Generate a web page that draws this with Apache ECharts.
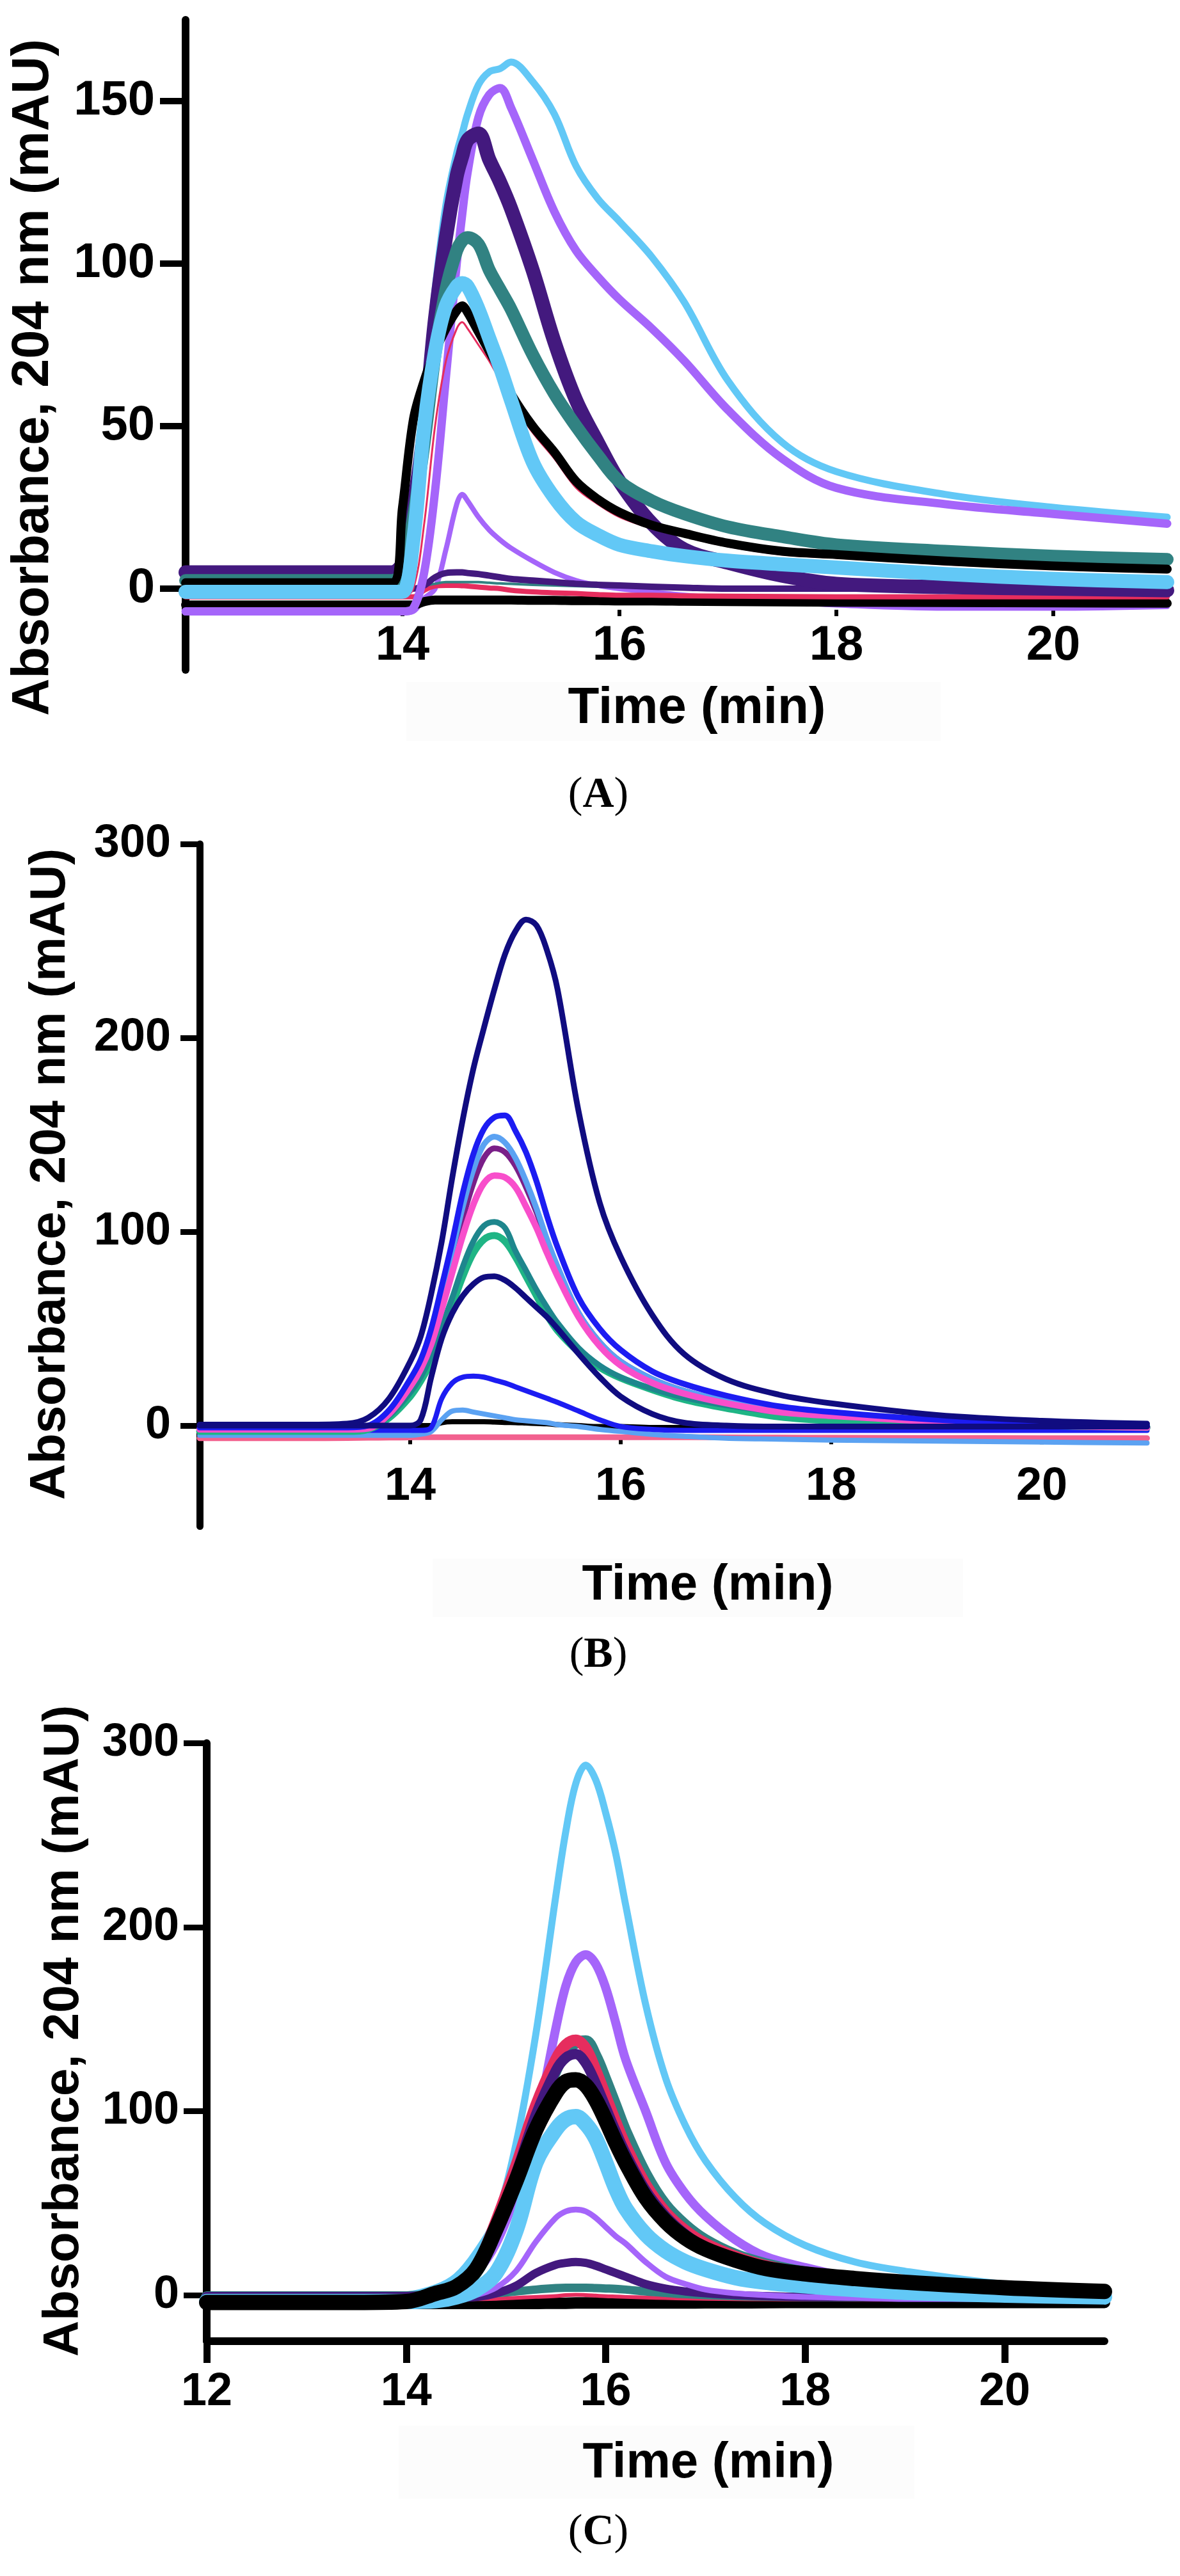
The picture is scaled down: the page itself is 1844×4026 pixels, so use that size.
<!DOCTYPE html>
<html>
<head>
<meta charset="utf-8">
<title>Absorbance at 204 nm vs time, panels A-C</title>
<script src="https://cdn.jsdelivr.net/npm/echarts@6.0.0/dist/echarts.min.js"></script>
<style>
  html, body { margin: 0; padding: 0; background: #ffffff; }
  #chart { width: 1844px; height: 4026px; }
</style>
</head>
<body>
<div id="chart"></div>
<script>
// ---- panel A (time in min, absorbance in mAU) ----
const timeA = [12, 13, 13.9, 14.0, 14.1, 14.2, 14.3, 14.4, 14.5, 14.55, 14.6, 14.7, 14.8, 14.9, 15.0, 15.2, 15.4, 15.6, 15.8, 16.0, 16.3, 16.6, 17.0, 17.5, 18, 19, 20, 21.05];
const lightBlueThinA  = [-1, -1, -1, 2, 25, 58, 92, 118, 134, 140, 146, 155, 159, 160, 162, 156, 146, 130, 120, 113, 102, 88, 64, 45, 36, 29, 25, 22];
const purpleThickA    = [-7, -7, -7, -7, -6, 5, 30, 65, 100, 115, 128, 145, 152, 154, 148, 132, 116, 104, 96, 89, 80, 70, 55, 40, 31, 26, 23, 20];
const darkPurpleThickA = [5, 5, 5, 8, 25, 49, 83, 108, 127, 133, 138, 140, 132, 125, 117, 98, 76, 58, 45, 33, 20, 12, 8, 4, 1.5, 0.5, 0, -0.5];
const tealThickA      = [2.5, 2.5, 2.5, 5, 22, 45, 72, 92, 104, 107, 108, 106, 98, 92, 86, 72, 60, 50, 41, 33, 27, 23, 19, 16, 13.5, 11.5, 10, 9];
const redThinA        = [-2.4, -2.4, -2.4, -2.4, 0, 20, 50, 70, 80, 82, 80, 75, 70, 64, 58, 48, 40, 31, 26, 22, 18.5, 16, 13, 10.5, 9.5, 7.5, 6, 5];
const blackThickA     = [1.8, 1.8, 1.8, 25, 52, 64, 73, 80, 85.5, 87, 85, 79, 73, 67, 60, 50, 42, 33, 27.5, 23.5, 19.5, 17, 14, 11.5, 10.5, 8.5, 7, 6];
const lightBlueThickA = [-1, -1, -1, -1, 15, 50, 73, 87, 93, 94, 93, 86, 77, 68, 58, 39, 28, 20.5, 16.5, 13.5, 11.5, 10, 8.6, 7.5, 6.5, 4.5, 3, 2];
const purpleThinA     = [-7.5, -7.5, -7.5, -7.5, -7, -3, 0, 12, 26, 29, 27, 22, 18, 15, 12.5, 8.5, 5, 2.5, 1, 0, -1, -2, -3, -4, -5, -6, -6, -5.5];
const darkPurpleSmallA = [0, 0, 0, 0, 0, 1, 3.5, 4.8, 5, 5, 4.8, 4.5, 4, 3.5, 3, 2.5, 2, 1.5, 1.2, 1, 0.6, 0.3, 0, 0, 0, 0, 0, 0];
const tealSmallA      = [0.5, 0.5, 0.5, 0.5, 0.5, 1, 1.5, 2, 2, 2, 2, 2, 1.8, 1.6, 1.5, 1.2, 1, 0.8, 0.6, 0.5, 0.3, 0.2, 0, 0, 0, 0, 0, 0];
const redBaseA        = [-2.5, -2.5, -2.5, -2.5, -2.5, -0.5, 0.8, 1, 1, 0.9, 0.8, 0.5, 0.2, 0, -0.5, -1, -1.3, -1.5, -1.8, -2, -2, -2.2, -2.3, -2.4, -2.5, -2.5, -2.5, -2.5];
const blackBaseA      = [-5, -5, -5, -5, -5, -4, -3.5, -3.5, -3.5, -3.5, -3.5, -3.5, -3.5, -3.5, -3.5, -3.6, -3.6, -3.7, -3.7, -3.8, -3.8, -3.9, -4, -4.1, -4.2, -4.3, -4.4, -4.5];

// ---- panel B ----
const timeB = [12, 13, 13.4, 13.6, 13.8, 14.0, 14.1, 14.2, 14.3, 14.4, 14.5, 14.6, 14.7, 14.8, 14.9, 15.0, 15.1, 15.2, 15.3, 15.4, 15.6, 15.8, 16.0, 16.3, 16.6, 17.0, 17.5, 18, 19, 20, 21];
const navyBigB   = [0.5, 0.5, 1, 4, 14, 33, 46, 68, 95, 128, 158, 184, 205, 225, 243, 255, 261, 258, 245, 225, 162, 115, 87, 57, 37, 24, 16, 11.5, 5.5, 2.5, 1];
const blueB      = [-1, -1, -1, 0, 8, 24, 34, 50, 72, 95, 120, 140, 153, 159, 160, 152, 141, 126, 108, 92, 66, 50, 39, 28, 21.5, 15.5, 10, 7, 3, 1, 0];
const lightBlueB = [-2, -2, -2, -1, 7, 22, 32, 47, 68, 90, 113, 132, 145, 149, 146, 138, 126, 112, 96, 82, 58, 43, 33, 24, 18, 13, 8.5, 6, 2.5, 0.5, -0.5];
const purpleB    = [-2, -2, -2, -1, 6, 21, 30, 45, 65, 86, 107, 125, 138, 143, 141, 134, 123, 110, 95, 81, 58, 43, 33, 24, 18, 12.5, 8, 5.5, 2, 0, -1];
const pinkB      = [-2, -2, -2, -1.5, 6, 20, 29, 42, 60, 79, 98, 114, 125, 129, 128, 123, 113, 102, 89, 77, 56, 41, 31, 22, 16.5, 11.5, 7, 5, 2, 0, -1];
const tealB      = [-2, -2, -2, -1.5, 5, 17, 25, 36, 51, 66, 82, 95, 103, 105, 102, 90, 80, 70, 61, 53, 40, 31, 25, 19, 14.5, 10.5, 7, 5, 2, 0.5, -0.5];
const greenB     = [-3, -3, -3, -2, 4, 15, 23, 33, 47, 62, 77, 89, 96, 98, 95, 87, 77, 67, 57, 49, 38, 30, 24.5, 18.5, 13.5, 9, 4.5, 2.5, 1, 0, -1];
const navySmallB = [0, 0, 0, 0, 0, 0, 3, 25, 45, 58, 67, 73, 76.5, 77, 75, 71, 66, 61, 56, 50, 37, 25, 15, 6, 1.5, 0, -0.5, -0.5, -0.5, -0.5, -0.5];
const blueSmallB = [-2.5, -2.5, -2.5, -2.5, -2.5, -2.5, -2.5, -1, 14, 22, 25, 25.5, 25, 23.5, 22, 20, 18, 16, 14, 12, 7.5, 3, -0.5, -2, -2.5, -2.5, -2.5, -2.5, -2.5, -2.5, -2.5];
const lightBlueSmallB = [-5, -5, -5, -5, -5, -5, -4.5, -3, 3, 7.5, 8, 7, 6, 5, 4, 3, 2.5, 2, 1.5, 0.5, -0.5, -2, -3, -4.5, -5.5, -6.5, -7, -7.5, -8, -8.5, -9];
const blackBaseB = [0, 0, 0, 0, 0, 0, 0, 0, 1.5, 2, 2, 2, 2, 1.8, 1.6, 1.5, 1.3, 1.1, 0.9, 0.5, 0, -0.5, -0.5, -1, -1, -1, -1, -1, -1, -1, -1];
const pinkBaseB  = [-6.5, -6.5, -6.4, -6.3, -6.2, -6.1, -6, -6, -6, -6, -6, -6, -6, -6, -6, -6, -6, -6, -6, -6, -6, -6, -6, -6, -6, -6.1, -6.2, -6.3, -6.4, -6.5, -6.5];

// ---- panel C ----
const timeC = [12, 12.5, 13, 13.5, 14, 14.3, 14.5, 14.7, 14.9, 15.1, 15.3, 15.5, 15.6, 15.7, 15.8, 15.9, 16.0, 16.1, 16.2, 16.4, 16.6, 16.8, 17.0, 17.3, 17.6, 18.0, 18.5, 19, 20, 21];
const lightBlueThinC  = [-1, 0, -1, -1, 0, 4, 10, 23, 42, 82, 142, 217, 252, 278, 288, 280, 262, 240, 212, 158, 118, 92, 73, 53, 39, 27, 18, 13, 6, 3];
const purpleThickC    = [-1, -1, -1, -1, -1, 0, 3, 12, 28, 55, 92, 145, 168, 181, 185, 180, 167, 148, 128, 100, 72, 55, 43, 30, 21, 15, 9, 5, 1, -1];
const tealThickC      = [-1, -1, -1, -1, -1, 0, 3, 12, 34, 62, 95, 122, 132, 137, 138, 130, 117, 103, 89, 66, 49, 38, 30, 22, 17, 12.5, 9.5, 7, 3.5, 1];
const redThickC       = [-2, -2, -2, -2, -2, 0, 4, 15, 40, 70, 103, 128, 136, 138.5, 134, 122, 108, 94, 81, 60, 45, 35, 28, 21, 16, 12, 9, 6.5, 1, -1];
const darkPurpleThickC = [-1, -1, -1, -1, -1, 0, 3.5, 14, 38, 66, 98, 122, 129, 131, 126, 115, 102, 89, 77, 57, 43, 33, 26, 20, 15, 11, 8, 6, 3, 0];
const blackThickC     = [-4, -4, -4, -4, -3.5, 1, 4.5, 14, 36, 62, 90, 110, 116, 117, 114, 106, 95, 83, 72, 53, 40, 31, 25, 19, 14.5, 11.5, 9, 7, 4, 2];
const lightBlueThickC = [-3.5, -3.5, -3.5, -3.5, -3.5, -3, -1, 3, 12, 35, 72, 90, 95.5, 97, 93, 85, 72, 58, 47, 33, 24, 18, 14, 9.5, 7, 5, 3, 1.5, 0, -1];
const purpleThinC     = [-2, -2, -2, -2, -2, -2, -1.5, 0, 4, 13, 29, 42, 45.5, 46.5, 45.5, 42, 37, 32, 28, 18, 10, 6, 3, 1, 0, -1, -1.5, -2, -2, -2];
const darkPurpleMedC  = [-1.5, -1.5, -1.5, -1.5, -1.5, -1.5, -1.5, -1, 1, 5, 12, 16.5, 17.5, 18, 17.5, 16, 14, 12, 10, 6, 3.5, 2, 1, 0, -0.5, -1, -1, -1.5, -1.5, -1.5];
const tealSmallC      = [-1, -1, -1, -1, -1, -1, -1, 0, 1, 2, 3, 3.8, 4, 4, 4, 3.8, 3.6, 3.4, 3, 2, 1.2, 0.5, 0, -0.5, -0.8, -1, -1.2, -1.3, -1.5, -1.5];
const redSmallC       = [-2.5, -2.5, -2.5, -2.5, -2.5, -2.5, -2.4, -2.2, -2, -1.5, -1, -0.5, 0, 0.2, 0, -0.3, -0.6, -0.8, -1, -1.3, -1.6, -1.8, -2, -2.2, -2.3, -2.4, -2.5, -2.5, -2.5, -2.5];
const blackBaseC      = [-4.5, -4.5, -4.5, -4.5, -4.5, -4.5, -4.5, -4.5, -4.5, -4.5, -4.5, -4.4, -4.4, -4.3, -4.3, -4.3, -4.3, -4.3, -4.3, -4.3, -4.3, -4.3, -4.2, -4.2, -4.1, -4, -4, -4, -4, -4];

// tick labels
const yTicksA = [0, 50, 100, 150];
const yTicksBC = [0, 100, 200, 300];
const xTicksAB = [14, 16, 18, 20];
const xTicksC = [12, 14, 16, 18, 20];

const LIGHT_BLUE = '#62c8f6', PURPLE = '#a565fa', DARK_PURPLE = '#43197e',
      TEAL = '#318282', RED = '#e62d5e', BLACK = '#000000';
const NAVY = '#100c80', BLUE = '#1c1cf2', CORNFLOWER = '#5ba2f2', PLUM = '#7a1f88',
      MAGENTA = '#f84ecb', TEAL_B = '#1e868d', GREEN = '#1fb585', SALMON = '#f2628f';

const SANS = '"Liberation Sans", Arial, Helvetica, sans-serif';
const SERIF = '"Liberation Serif", "Times New Roman", serif';
const times = [timeA, timeB, timeC];

function trace(panel, name, values, color, width) {
  return {
    type: 'line',
    name: name,
    xAxisIndex: panel,
    yAxisIndex: panel,
    data: times[panel].map((t, i) => [t, values[i]]),
    showSymbol: false,
    smooth: 0.35,
    silent: true,
    lineStyle: { color: color, width: width, cap: 'round', join: 'round' },
    itemStyle: { color: color }
  };
}

function yAxisOf(panel, min, max, ticks, tickLen, tickW, fontSize, margin) {
  return {
    gridIndex: panel, type: 'value', min: min, max: max,
    axisLine: { show: true, onZero: false, lineStyle: { color: '#000', width: panel === 1 ? 11 : 12 } },
    axisTick: { show: true, length: tickLen, customValues: ticks, lineStyle: { color: '#000', width: tickW } },
    axisLabel: { customValues: ticks, margin: margin, color: '#000', fontSize: fontSize, fontWeight: 'bold', fontFamily: SANS },
    splitLine: { show: false }
  };
}

function panelLetter(letter, y) {
  return {
    type: 'text', silent: true, x: 935, y: y,
    style: {
      text: '{p|(}{b|' + letter + '}{p|)}', align: 'center', verticalAlign: 'middle', fill: '#000',
      rich: { p: { font: '68px ' + SERIF, fill: '#000' }, b: { font: 'bold 68px ' + SERIF, fill: '#000' } }
    }
  };
}

const option = {
  backgroundColor: '#ffffff',
  animation: false,
  grid: [
    { left: 290, top: 31, width: 1534, height: 1016, outerBoundsMode: 'none' },
    { left: 312, top: 1319, width: 1480.5, height: 1066.6, outerBoundsMode: 'none' },
    { left: 323, top: 2724.2, width: 1403, height: 934.7, outerBoundsMode: 'none' }
  ],
  xAxis: [
    {
      gridIndex: 0, type: 'value', min: 12, max: 21.05, offset: -94,
      axisLine: { show: false, onZero: false },
      axisTick: { show: true, length: 10, customValues: xTicksAB, lineStyle: { color: '#000', width: 6 } },
      axisLabel: { customValues: xTicksAB, margin: 57, verticalAlign: 'middle', color: '#000', fontSize: 76, fontWeight: 'bold', fontFamily: SANS },
      splitLine: { show: false }
    },
    {
      gridIndex: 1, type: 'value', min: 12, max: 21, offset: -136.4,
      axisLine: { show: false, onZero: false },
      axisTick: { show: true, length: 8, customValues: xTicksAB, lineStyle: { color: '#000', width: 6 } },
      axisLabel: { customValues: xTicksAB, margin: 75, verticalAlign: 'middle', color: '#000', fontSize: 72, fontWeight: 'bold', fontFamily: SANS },
      splitLine: { show: false }
    },
    {
      gridIndex: 2, type: 'value', min: 12, max: 21,
      axisLine: { show: true, onZero: false, lineStyle: { color: '#000', width: 12 } },
      axisTick: { show: true, length: 34, customValues: xTicksC, lineStyle: { color: '#000', width: 11 } },
      axisLabel: { customValues: xTicksC, margin: 80, verticalAlign: 'middle', color: '#000', fontSize: 72, fontWeight: 'bold', fontFamily: SANS },
      splitLine: { show: false }
    }
  ],
  yAxis: [
    yAxisOf(0, -25, 175, yTicksA, 40, 10, 76, 48),
    yAxisOf(1, -52, 300, yTicksBC, 30, 9, 72, 45),
    yAxisOf(2, -25, 300, yTicksBC, 36, 9, 72, 43)
  ],
  graphic: [
    { type: 'rect', silent: true, z: -10, shape: { x: 635, y: 1066, width: 835, height: 92 }, style: { fill: '#fcfcfc' } },
    { type: 'rect', silent: true, z: -10, shape: { x: 676, y: 2436, width: 829, height: 91 }, style: { fill: '#fcfcfc' } },
    { type: 'rect', silent: true, z: -10, shape: { x: 623, y: 3791, width: 806, height: 114 }, style: { fill: '#fcfcfc' } },
    { type: 'text', silent: true, x: 53, y: 590, rotation: Math.PI / 2,
      style: { text: 'Absorbance, 204 nm (mAU)', font: 'bold 81px ' + SANS, fill: '#000', align: 'center', verticalAlign: 'middle' } },
    { type: 'text', silent: true, x: 79, y: 1835, rotation: Math.PI / 2,
      style: { text: 'Absorbance, 204 nm (mAU)', font: 'bold 78px ' + SANS, fill: '#000', align: 'center', verticalAlign: 'middle' } },
    { type: 'text', silent: true, x: 100, y: 3174, rotation: Math.PI / 2,
      style: { text: 'Absorbance, 204 nm (mAU)', font: 'bold 78px ' + SANS, fill: '#000', align: 'center', verticalAlign: 'middle' } },
    { type: 'text', silent: true, x: 1089, y: 1108,
      style: { text: 'Time (min)', font: 'bold 80px ' + SANS, fill: '#000', align: 'center', verticalAlign: 'middle' } },
    { type: 'text', silent: true, x: 1106, y: 2478,
      style: { text: 'Time (min)', font: 'bold 78px ' + SANS, fill: '#000', align: 'center', verticalAlign: 'middle' } },
    { type: 'text', silent: true, x: 1107, y: 3850,
      style: { text: 'Time (min)', font: 'bold 78px ' + SANS, fill: '#000', align: 'center', verticalAlign: 'middle' } },
    panelLetter('A', 1243),
    panelLetter('B', 2587),
    panelLetter('C', 3958)
  ],
  series: [
    // A, back to front
    trace(0, 'A purple thin', purpleThinA, PURPLE, 8),
    trace(0, 'A black base', blackBaseA, BLACK, 14),
    trace(0, 'A red base', redBaseA, RED, 8),
    trace(0, 'A teal small', tealSmallA, TEAL, 4),
    trace(0, 'A dark purple small', darkPurpleSmallA, DARK_PURPLE, 10),
    trace(0, 'A light blue thin', lightBlueThinA, LIGHT_BLUE, 11),
    trace(0, 'A purple thick', purpleThickA, PURPLE, 13),
    trace(0, 'A dark purple thick', darkPurpleThickA, DARK_PURPLE, 22),
    trace(0, 'A teal thick', tealThickA, TEAL, 20),
    trace(0, 'A red thin', redThinA, RED, 3),
    trace(0, 'A black thick', blackThickA, BLACK, 14),
    trace(0, 'A light blue thick', lightBlueThickA, LIGHT_BLUE, 22),
    // B
    trace(1, 'B pink base', pinkBaseB, SALMON, 9),
    trace(1, 'B black base', blackBaseB, BLACK, 8),
    trace(1, 'B light blue small', lightBlueSmallB, CORNFLOWER, 8),
    trace(1, 'B blue small', blueSmallB, BLUE, 8),
    trace(1, 'B green', greenB, GREEN, 11),
    trace(1, 'B teal', tealB, TEAL_B, 9),
    trace(1, 'B purple', purpleB, PLUM, 9),
    trace(1, 'B light blue', lightBlueB, CORNFLOWER, 9),
    trace(1, 'B pink', pinkB, MAGENTA, 10),
    trace(1, 'B blue', blueB, BLUE, 9),
    trace(1, 'B navy small', navySmallB, NAVY, 9),
    trace(1, 'B navy big', navyBigB, NAVY, 9),
    // C
    trace(2, 'C black base', blackBaseC, BLACK, 18),
    trace(2, 'C red small', redSmallC, RED, 6),
    trace(2, 'C teal small', tealSmallC, TEAL, 13),
    trace(2, 'C dark purple medium', darkPurpleMedC, DARK_PURPLE, 13),
    trace(2, 'C purple thin', purpleThinC, PURPLE, 9),
    trace(2, 'C light blue thin', lightBlueThinC, LIGHT_BLUE, 11),
    trace(2, 'C purple thick', purpleThickC, PURPLE, 14),
    trace(2, 'C teal thick', tealThickC, TEAL, 18),
    trace(2, 'C red thick', redThickC, RED, 18),
    trace(2, 'C dark purple thick', darkPurpleThickC, DARK_PURPLE, 16),
    trace(2, 'C light blue thick', lightBlueThickC, LIGHT_BLUE, 24),
    trace(2, 'C black thick', blackThickC, BLACK, 24)
  ]
};

const chart = echarts.init(document.getElementById('chart'));
chart.setOption(option);
</script>
</body>
</html>
